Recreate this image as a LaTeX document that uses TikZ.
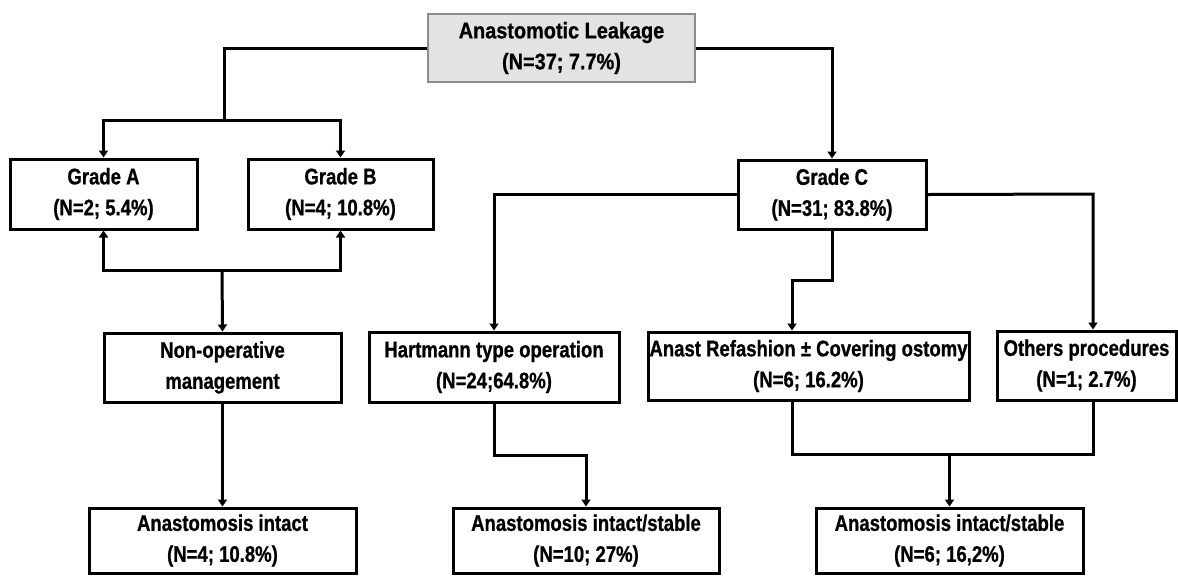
\documentclass[tikz,border=0pt]{standalone}
\usepackage{fontspec}
\setmainfont{Liberation Sans}[FakeStretch=0.82, BoldFeatures={FakeBold=0.8}]
\newfontfamily\topfont{Liberation Sans}[FakeStretch=0.88, BoldFeatures={FakeBold=0.8}]
\usetikzlibrary{arrows.meta}
\definecolor{topfill}{HTML}{E3E3E3}
\definecolor{topline}{HTML}{8C8C8C}
\tikzset{
  box/.style={draw=black, line width=1.5pt, inner sep=0pt, align=center,
    font=\fontsize{11.3}{15.5}\selectfont\bfseries},
  topbox/.style={box, fill=topfill, draw=topline, line width=0.9pt,
    font=\fontsize{11.3}{15.5}\selectfont\topfont\bfseries},
  conn/.style={line width=1.5pt, draw=black},
  arr/.style={conn, -{Triangle[length=3.5pt,width=4.5pt]}},
}
\begin{document}
\begin{tikzpicture}[x=0.5pt,y=-0.5pt]
\useasboundingbox (0,0) rectangle (1178,575);
% boxes
\node[topbox, minimum width=133.5pt, minimum height=34pt] (top) at (561.5,48) {Anastomotic Leakage\\(N=37; 7.7\%)};
\node[box, minimum width=93.5pt, minimum height=35pt] (gA) at (103.5,194) {Grade A\\(N=2; 5.4\%)};
\node[box, minimum width=92.5pt, minimum height=35pt] (gB) at (340.5,194) {Grade B\\(N=4; 10.8\%)};
\node[box, minimum width=94pt, minimum height=34.5pt] (gC) at (832,194.5) {Grade C\\(N=31; 83.8\%)};
\node[box, minimum width=118.5pt, minimum height=34.5pt] (nonop) at (222.5,367.5) {Non-operative\\management};
\node[box, minimum width=125pt, minimum height=35pt] (hart) at (494,367) {Hartmann type operation\\(N=24;64.8\%)};
\node[box, minimum width=160.5pt, minimum height=34pt] (refa) at (808.5,366) {Anast Refashion \char"00B1\ Covering ostomy\\(N=6; 16.2\%)};
\node[box, minimum width=89.5pt, minimum height=34.5pt] (oth) at (1086.5,365.5) {Others procedures\\(N=1; 2.7\%)};
\node[box, minimum width=133.5pt, minimum height=32.5pt] (ai1) at (222.5,540.5) {Anastomosis intact\\(N=4; 10.8\%)};
\node[box, minimum width=133pt, minimum height=32.5pt] (ai2) at (586,540.5) {Anastomosis intact/stable\\(N=10; 27\%)};
\node[box, minimum width=133.5pt, minimum height=32.5pt] (ai3) at (949.5,540.5) {Anastomosis intact/stable\\(N=6; 16,2\%)};
% junction coordinates
\coordinate (j1) at (224,120);
\coordinate (j2) at (222,270);
\coordinate (r1) at (792,280);
\coordinate (o1) at (1093,194);
\coordinate (b1) at (792,454);
\coordinate (b2) at (1093,454);
\coordinate (b3) at (949.5,454);
% connectors
\draw[conn] (top.west) -| (j1);
\draw[arr] (j1) -| (gA.north);
\draw[arr] (j1) -| (gB.north);
\draw[arr] (top.east) -| (gC.north);
\draw[arr] (j2) -| (gA.south);
\draw[arr] (j2) -| (gB.south);
\draw[arr] (j2) -- (nonop.north);
\draw[arr] (gC.west) -| (hart.north);
\draw[arr] (gC.south) |- (r1) -- (r1 |- refa.north);
\draw[arr] (gC.east) -- (o1) -- (o1 |- oth.north);
\draw[arr] (nonop.south) -- (ai1.north);
\draw[arr] (hart.south) -- ++(0,52) -| (ai2.north);
\draw[conn] (b1 |- refa.south) -- (b1) -- (b2) -- (b2 |- oth.south);
\draw[arr] (b3) -- (ai3.north);
\end{tikzpicture}
\end{document}
